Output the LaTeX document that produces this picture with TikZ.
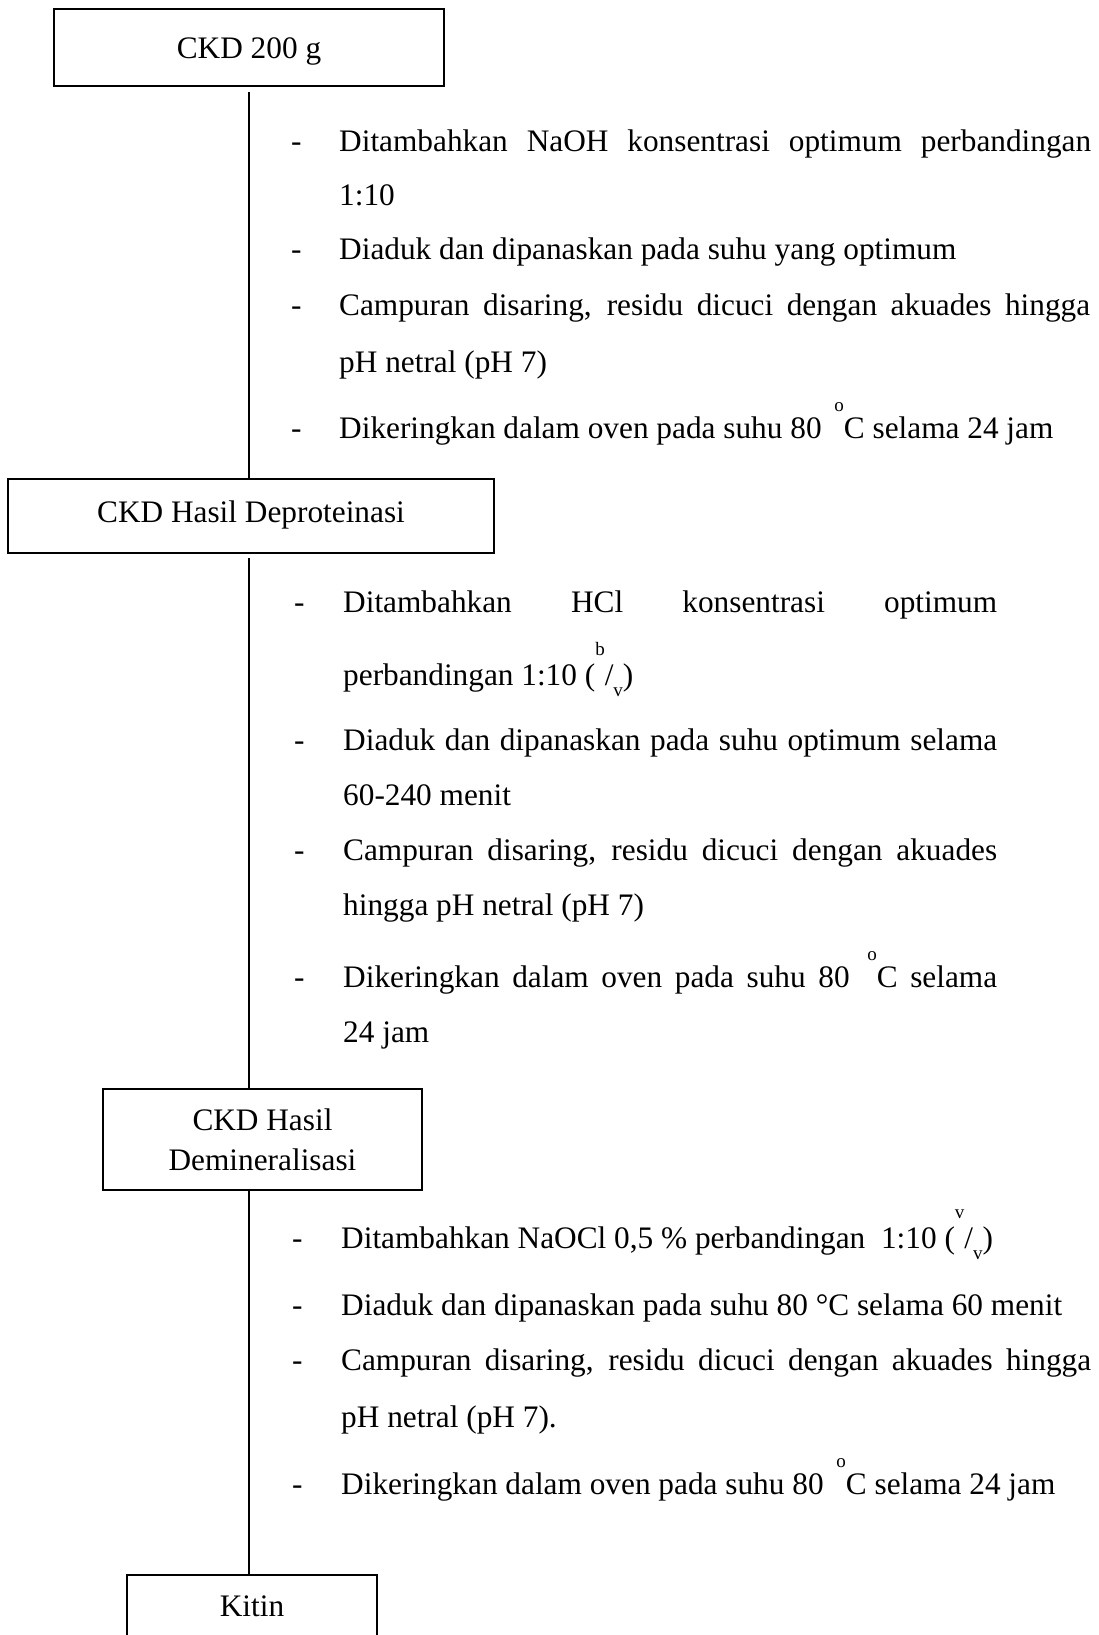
\documentclass[tikz,border=0pt]{standalone}
\usepackage{fontspec}
\setmainfont{Liberation Serif}
\usepackage{tikz}
\newcommand{\bodyFont}{\fontsize{31.3}{40}\selectfont}
\newcommand{\smallFont}{\fontsize{19}{19}\selectfont}
\tikzstyle{pixelGrid} = [x=1pt, y=-1pt]
\tikzstyle{boxStyle} = [draw=black, line width=2pt, inner sep=0pt, font=\bodyFont, align=center]
\tikzstyle{flowLine} = [color=black, line width=1.8pt]
\tikzstyle{itemText} = [anchor=base west, inner sep=0pt, font=\bodyFont]
\newcommand{\justLine}[2]{\makebox[#1pt][s]{#2}}
\newcommand{\degSup}{\hspace{5pt}\raisebox{27pt}{\smallFont o}}
\newcommand{\ratioSup}[2]{(\raisebox{30pt}{\smallFont #1}/\raisebox{-11pt}{\smallFont #2})}
\newcommand{\itemDash}[3]{\node [itemText] (#1) at (#2, #3) {-};}
\newcommand{\itemLine}[4]{\node [itemText] (#1) at (#2, #3) {#4};}

\begin{document}
\begin{tikzpicture}[pixelGrid]
        \useasboundingbox (0,0) rectangle (1098,1635);
        \clip (0,0) rectangle (1098,1635);
        \coordinate (spine) at (249, 0);

        % stages
        \node [boxStyle, minimum width=390pt, minimum height=77pt, text height=23pt, text depth=2pt] (ckd) at (249, 48) {CKD 200 g};
        \node [boxStyle, minimum width=486pt, minimum height=74pt, text height=21pt, text depth=9pt] (deprot) at (251, 516) {CKD Hasil Deproteinasi};
        \node [boxStyle, minimum width=319pt, minimum height=101pt] (demin) at (262.5, 1139.5) {CKD Hasil\\Demineralisasi};
        \node [boxStyle, minimum width=250pt, minimum height=84pt, text height=21pt, text depth=23pt] (kitin) at (252, 1617) {Kitin};

        \draw [flowLine, shorten <=5pt] (ckd.south -| spine) -- (deprot.north -| spine);
        \draw [flowLine, shorten <=4pt] (deprot.south -| spine) -- (demin.north -| spine);
        \draw [flowLine] (demin.south -| spine) -- (kitin.north -| spine);

        % deproteinasi
        \itemDash{d1a}{291}{151}
        \itemLine{t1a}{339}{151}{\justLine{752}{Ditambahkan NaOH konsentrasi optimum perbandingan}}
        \itemLine{t1b}{339}{205}{1:10}
        \itemDash{d1c}{291}{259}
        \itemLine{t1c}{339}{259}{Diaduk dan dipanaskan pada suhu yang optimum}
        \itemDash{d1d}{291}{315}
        \itemLine{t1d}{339}{315}{\justLine{751}{Campuran disaring, residu dicuci dengan akuades hingga}}
        \itemLine{t1e}{339}{372}{pH netral (pH 7)}
        \itemDash{d1f}{291}{438}
        \itemLine{t1f}{339}{438}{Dikeringkan dalam oven pada suhu 80 \degSup C selama 24 jam}

        % demineralisasi
        \itemDash{d2a}{294}{612}
        \itemLine{t2a}{343}{612}{\justLine{654}{Ditambahkan HCl konsentrasi optimum}}
        \itemLine{t2b}{343}{685}{perbandingan 1:10 \ratioSup{b}{v}}
        \itemDash{d2c}{294}{750}
        \itemLine{t2c}{343}{750}{\justLine{654}{Diaduk dan dipanaskan pada suhu optimum selama}}
        \itemLine{t2d}{343}{805}{60-240 menit}
        \itemDash{d2e}{294}{860}
        \itemLine{t2e}{343}{860}{\justLine{654}{Campuran disaring, residu dicuci dengan akuades}}
        \itemLine{t2f}{343}{915}{hingga pH netral (pH 7)}
        \itemDash{d2g}{294}{987}
        \itemLine{t2g}{343}{987}{\justLine{654}{Dikeringkan dalam oven pada suhu 80 \degSup C selama}}
        \itemLine{t2h}{343}{1042}{24 jam}

        % depigmentasi
        \itemDash{d3a}{292}{1248}
        \itemLine{t3a}{341}{1248}{Ditambahkan NaOCl 0,5 \% perbandingan \ 1:10 \ratioSup{v}{v}}
        \itemDash{d3b}{292}{1315}
        \itemLine{t3b}{341}{1315}{Diaduk dan dipanaskan pada suhu 80 °C selama 60 menit}
        \itemDash{d3c}{292}{1370}
        \itemLine{t3c}{341}{1370}{\justLine{750}{Campuran disaring, residu dicuci dengan akuades hingga}}
        \itemLine{t3d}{341}{1427}{pH netral (pH 7).}
        \itemDash{d3e}{292}{1494}
        \itemLine{t3e}{341}{1494}{Dikeringkan dalam oven pada suhu 80 \degSup C selama 24 jam}
      \end{tikzpicture}
\end{document}
